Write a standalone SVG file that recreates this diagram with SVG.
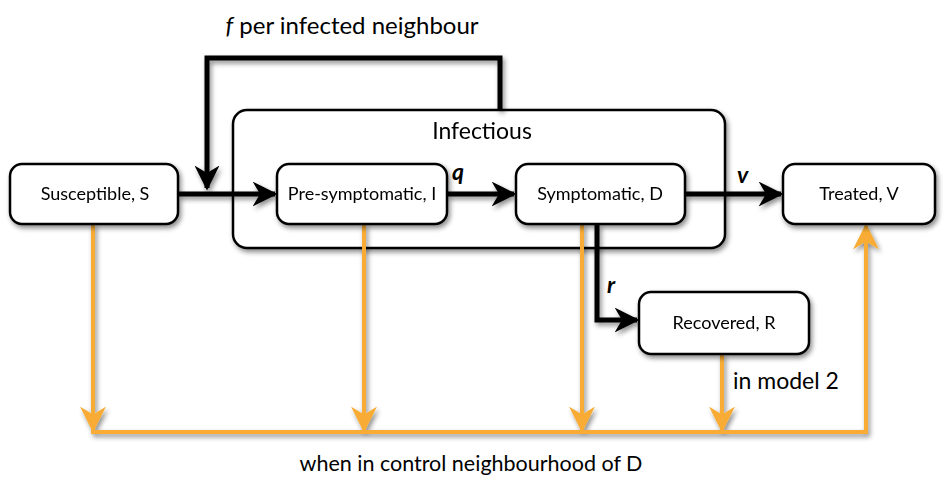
<svg xmlns="http://www.w3.org/2000/svg" width="945" height="478" viewBox="0 0 945 478">
<defs>
<filter id="sh" x="-20%" y="-20%" width="140%" height="140%">
<feDropShadow dx="2" dy="3" stdDeviation="2.5" flood-color="#000" flood-opacity="0.45"/>
</filter>
<marker id="ab" viewBox="0 0 10 10" refX="9" refY="5" markerWidth="5" markerHeight="5" markerUnits="strokeWidth" orient="auto">
<path d="M0,0 L10,5 L0,10 L3,5 Z" fill="#000"/>
</marker>
<marker id="ao" viewBox="0 0 10 10" refX="9" refY="5" markerWidth="6.5" markerHeight="6.5" markerUnits="strokeWidth" orient="auto">
<path d="M0,0 L10,5 L0,10 L3,5 Z" fill="#F8AC34"/>
</marker>
</defs>
<style>
.box{fill:#fff;stroke:#000;stroke-width:2.5}
.t{font-family:Lato,"Open Sans",sans-serif;fill:#000}
.bl{font-size:18px;text-anchor:middle}
.big{font-size:23px}
.k{fill:none;stroke:#000;stroke-width:5}
.o{fill:none;stroke:#F8AC34;stroke-width:4}
</style>
<g id="infectious" filter="url(#sh)">
<rect class="box" x="233" y="110" width="492" height="138" rx="14"/>
<text class="t big" x="482" y="139" text-anchor="middle">Infectious</text>
</g>
<g id="connectors" filter="url(#sh)">
<path class="k" d="M500,110 V58 H207 V188" marker-end="url(#ab)"/>
<path class="k" d="M178,194 H275" marker-end="url(#ab)"/>
<path class="k" d="M447,194 H514" marker-end="url(#ab)"/>
<path class="k" d="M685,194 H781" marker-end="url(#ab)"/>
<path class="k" d="M597,224 V320 H637" marker-end="url(#ab)"/>
<path class="o" d="M93,224 V430" marker-end="url(#ao)"/>
<path class="o" d="M364,224 V430" marker-end="url(#ao)"/>
<path class="o" d="M582,224 V430" marker-end="url(#ao)"/>
<path class="o" d="M722,354 V430" marker-end="url(#ao)"/>
<path class="o" d="M91,432 H866 V226" marker-end="url(#ao)"/>
</g>
<g id="susceptible" filter="url(#sh)">
<rect class="box" x="10" y="164" width="168" height="60" rx="12"/>
<text class="t bl" x="95" y="200">Susceptible, S</text>
</g>
<g id="presymptomatic" filter="url(#sh)">
<rect class="box" x="277" y="164" width="170" height="60" rx="12"/>
<text class="t bl" x="362" y="200">Pre-symptomatic, I</text>
</g>
<g id="symptomatic" filter="url(#sh)">
<rect class="box" x="516" y="164" width="169" height="60" rx="12"/>
<text class="t bl" x="600" y="200">Symptomatic, D</text>
</g>
<g id="treated" filter="url(#sh)">
<rect class="box" x="783" y="164" width="152" height="60" rx="12"/>
<text class="t bl" x="859" y="200">Treated, V</text>
</g>
<g id="recovered" filter="url(#sh)">
<rect class="box" x="639" y="292" width="170" height="62" rx="12"/>
<text class="t bl" x="724" y="329">Recovered, R</text>
</g>
<g id="labels">
<text class="t" font-size="24" x="352" y="34" text-anchor="middle"><tspan font-style="italic">f</tspan> per infected neighbour</text>
<text class="t" font-size="23" x="452" y="180" font-style="italic" font-weight="bold">q</text>
<text class="t" font-size="23" x="737" y="183" font-style="italic" font-weight="bold">v</text>
<text class="t" font-size="23" x="607" y="293" font-style="italic" font-weight="bold">r</text>
<text class="t big" x="733" y="389">in model 2</text>
<text class="t" font-size="21.5" x="471" y="471" text-anchor="middle">when in control neighbourhood of D</text>
</g>
</svg>
